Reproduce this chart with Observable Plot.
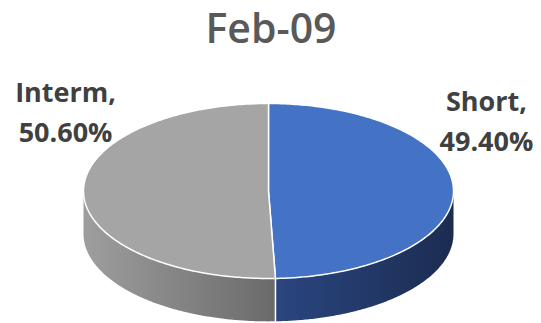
<!DOCTYPE html>
<html>
<head>
<meta charset="utf-8">
<script src="https://cdn.jsdelivr.net/npm/d3@7"></script>
<script src="https://cdn.jsdelivr.net/npm/@observablehq/plot@0.6"></script>
<style>
  html, body { margin: 0; padding: 0; background: #ffffff; }
  #chart svg { display: block; }
</style>
</head>
<body>
<div id="chart"></div>
<script>
// ---- data ----
const title = "Feb-09";
const categories = ["Short", "Interm"];
const shares = [49.40, 50.60];

// ---- styles / layout ----
const topColors = ["#4472c4", "#a5a5a5"];
const sideGradients = [
  ["#2a4680", "#1b2c50"],
  ["#9e9e9e", "#6a6a6a"]
];
const labelPlace = { Short: [1.178, -0.837], Interm: [-1.097, -0.94] };
const depth = 0.49;          // pie thickness in y units
const W = 541, H = 323;

// ---- geometry from data ----
const total = d3.sum(shares);
let acc = 0;
const slices = categories.map((c, i) => {
  const a0 = acc / total * 2 * Math.PI;
  acc += shares[i];
  const a1 = acc / total * 2 * Math.PI;
  return { cat: c, share: shares[i], a0, a1, i };
});
const pt = (t, dz = 0) => ({ u: Math.sin(t), v: -Math.cos(t) + dz });
const arc = (a0, a1, n, dz = 0) => d3.range(n + 1).map(k => pt(a0 + (a1 - a0) * k / n, dz));

// top faces
const topPolys = slices.map(s => [{ u: 0, v: 0 }, ...arc(s.a0, s.a1, 240), { u: 0, v: 0 }]);

// side faces (visible front half: angles PI/2 .. 3PI/2)
const sidePolys = slices.map(s => {
  const b0 = Math.max(s.a0, Math.PI / 2), b1 = Math.min(s.a1, 3 * Math.PI / 2);
  if (b1 <= b0) return null;
  return [...arc(b0, b1, 160), ...arc(b0, b1, 160, depth).reverse()];
});

// visible slice boundaries on the side
const sideEdges = slices
  .map(s => s.a1)
  .filter(a => a > Math.PI / 2 && a < 3 * Math.PI / 2)
  .map(a => [pt(a), pt(a, depth)]);

const labels = slices.map(s => ({
  u: labelPlace[s.cat][0],
  v: labelPlace[s.cat][1],
  text: `${s.cat},\n${s.share.toFixed(2)}%`
}));

const marks = [];
sidePolys.forEach((poly, i) => {
  if (!poly) return;
  marks.push(Plot.line(poly, { x: "u", y: "v", fill: `url(#side${i})`, stroke: "none" }));
});
sideEdges.forEach(e => marks.push(Plot.line(e, { x: "u", y: "v", stroke: "#ffffff", strokeWidth: 1.5 })));
topPolys.forEach((poly, i) => {
  marks.push(Plot.line(poly, { x: "u", y: "v", fill: topColors[i], stroke: "#ffffff", strokeWidth: 1.5, strokeLinejoin: "round" }));
});
marks.push(Plot.text(labels, {
  x: "u", y: "v", text: "text", fontSize: 27, fontWeight: 700,
  fill: "#404040", lineHeight: 1.48, textAnchor: "middle"
}));
marks.push(Plot.text([title], {
  frameAnchor: "top", lineAnchor: "top", dy: 13, fontSize: 41, fontWeight: 600, fill: "#595959"
}));

const svg = Plot.plot({
  width: W, height: H,
  margin: 0,
  x: { domain: [-1, 1], range: [83, 453], axis: null },
  y: { domain: [-1, 1], range: [103, 278], axis: null },
  style: { fontFamily: "'Open Sans', sans-serif", background: "#ffffff", overflow: "visible" },
  marks
});

// gradients for the side faces
const defs = d3.select(svg).insert("defs", ":first-child");
sideGradients.forEach((g, i) => {
  const lg = defs.append("linearGradient").attr("id", `side${i}`)
    .attr("x1", "0").attr("y1", "0").attr("x2", "1").attr("y2", "0");
  lg.append("stop").attr("offset", "0").attr("stop-color", g[0]);
  lg.append("stop").attr("offset", "1").attr("stop-color", g[1]);
});

document.getElementById("chart").appendChild(svg);
</script>
</body>
</html>
